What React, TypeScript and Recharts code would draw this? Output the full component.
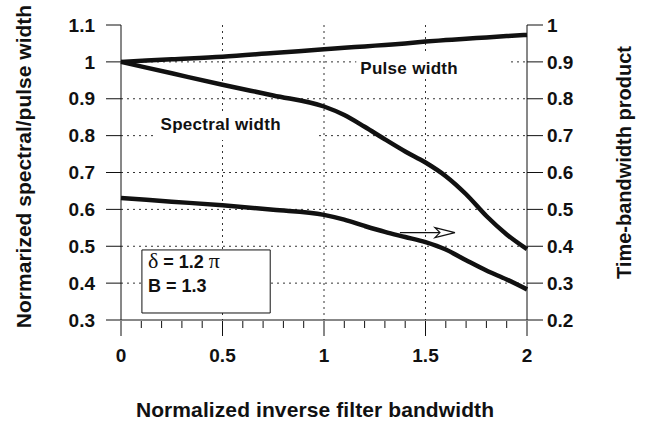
import { ComposedChart, Line, XAxis, YAxis, CartesianGrid, ReferenceArea, ReferenceDot } from "recharts"

// normalized inverse filter bandwidth
const bandwidth = [0, 0.25, 0.5, 0.75, 1.0, 1.1, 1.2, 1.3, 1.4, 1.5, 1.6, 1.7, 1.8, 1.9, 2.0]
// left axis
const pulseWidth = [1.0, 1.007, 1.014, 1.024, 1.034, 1.038, 1.042, 1.046, 1.05, 1.055, 1.059, 1.063, 1.066, 1.07, 1.073]
const spectralWidth = [1.0, 0.969, 0.938, 0.909, 0.879, 0.856, 0.824, 0.79, 0.757, 0.727, 0.69, 0.641, 0.582, 0.532, 0.492]
// right axis
const timeBandwidth = [0.531, 0.521, 0.511, 0.499, 0.485, 0.472, 0.455, 0.439, 0.425, 0.411, 0.391, 0.362, 0.334, 0.31, 0.283]

const xTicks = [0, 0.1, 0.2, 0.3, 0.4, 0.5, 0.6, 0.7, 0.8, 0.9, 1, 1.1, 1.2, 1.3, 1.4, 1.5, 1.6, 1.7, 1.8, 1.9, 2]
const xGrid = [0.5, 1, 1.5]
const leftTicks = [0.3, 0.4, 0.5, 0.6, 0.7, 0.8, 0.9, 1, 1.1]
const leftGrid = [0.4, 0.5, 0.6, 0.7, 0.8, 0.9, 1]
const rightTicks = [0.2, 0.3, 0.4, 0.5, 0.6, 0.7, 0.8, 0.9, 1]

const data = bandwidth.map((x, i) => ({
  x,
  pulse: pulseWidth[i],
  spectral: spectralWidth[i],
  tbp: timeBandwidth[i],
}))

const FONT = "'Liberation Sans', Arial, Helvetica, sans-serif"
const INK = "#111"

function XTick(props: any) {
  const { x, y, payload } = props
  const v = payload.value
  const major = Math.abs(v * 2 - Math.round(v * 2)) < 1e-6
  return (
    <g>
      <line x1={x} x2={x} y1={y + 1} y2={y + (major ? 16 : 8)} stroke={INK} strokeWidth={1} />
      {major && (
        <text x={x} y={y + 42} textAnchor="middle" fontFamily={FONT} fontSize={19} fontWeight="bold" fill={INK}>
          {String(v)}
        </text>
      )}
    </g>
  )
}

function XTitle(props: any) {
  const vb = props.viewBox || { x: 121, y: 320, width: 406, height: 106 }
  return (
    <text x={vb.x + vb.width / 2 - 9} y={vb.y + 97} textAnchor="middle" fontFamily={FONT} fontSize={21} fontWeight="bold" fill={INK} letterSpacing={0.1}>
      Normalized inverse filter bandwidth
    </text>
  )
}

function LeftTitle(props: any) {
  const vb = props.viewBox || { x: 0, y: 25, width: 121, height: 295 }
  const x = vb.x + 31
  const y = vb.y + vb.height / 2 - 6
  return (
    <text x={x} y={y} transform={`rotate(-90 ${x} ${y})`} textAnchor="middle" fontFamily={FONT} fontSize={21} fontWeight="bold" fill={INK}>
      Normarized spectral/pulse width
    </text>
  )
}

function RightTitle(props: any) {
  const vb = props.viewBox || { x: 527, y: 25, width: 121, height: 295 }
  const x = vb.x + 104
  const y = vb.y + vb.height / 2 - 10
  return (
    <text x={x} y={y} transform={`rotate(-90 ${x} ${y})`} textAnchor="middle" fontFamily={FONT} fontSize={20} fontWeight="bold" fill={INK}>
      Time-bandwidth product
    </text>
  )
}

function CurveName(props: any) {
  const { viewBox, text, dx, dy } = props
  if (!viewBox) return null
  return (
    <text x={viewBox.x + dx} y={viewBox.y + dy} fontFamily={FONT} fontSize={17} fontWeight="bold" fill={INK} letterSpacing={0.3}>
      {text}
    </text>
  )
}

function ParamBox(props: any) {
  const { viewBox } = props
  if (!viewBox) return null
  const x = viewBox.x + 6
  const serif = "'Liberation Serif', 'DejaVu Serif', serif"
  return (
    <g fontFamily={FONT} fontSize={18} fontWeight="bold" fill={INK}>
      <text x={x} y={viewBox.y + 18}>
        <tspan fontFamily={serif} fontWeight="normal" fontSize={22}>δ</tspan>
        <tspan> = 1.2 </tspan>
        <tspan fontFamily={serif} fontWeight="normal" fontSize={22}>π</tspan>
      </text>
      <text x={x} y={viewBox.y + 42}>B = 1.3</text>
    </g>
  )
}

function Arrow(props: any) {
  const { cx, cy } = props
  if (cx == null || cy == null) return null
  return (
    <g>
      <line x1={cx - 55} y1={cy} x2={cx - 15} y2={cy} stroke={INK} strokeWidth={1.2} />
      <path
        d={`M ${cx - 20} ${cy - 5} L ${cx} ${cy} L ${cx - 20} ${cy + 5} L ${cx - 15} ${cy} Z`}
        fill="#fff"
        stroke={INK}
        strokeWidth={1.2}
      />
    </g>
  )
}

export default function App() {
  return (
    <div style={{ position: "absolute", left: 0, top: 0, width: 648, height: 426, background: "#fff" }}>
      <ComposedChart width={648} height={426} data={data} margin={{ top: 25, right: 0, bottom: 0, left: 0 }}>
        <CartesianGrid
          yAxisId="left"
          horizontalValues={leftGrid}
          verticalValues={xGrid}
          stroke="#333"
          strokeDasharray="2 4"
        />
        <XAxis
          dataKey="x"
          type="number"
          domain={[0, 2]}
          ticks={xTicks}
          interval={0}
          height={106}
          tickSize={0}
          tickMargin={0}
          tickLine={false}
          axisLine={{ stroke: INK, strokeWidth: 1 }}
          tick={<XTick />}
          label={<XTitle />}
        />
        <XAxis
          xAxisId="top"
          orientation="top"
          dataKey="x"
          type="number"
          domain={[0, 2]}
          height={0}
          tick={false}
          tickLine={false}
          axisLine={{ stroke: INK, strokeWidth: 1 }}
        />
        <YAxis
          yAxisId="left"
          domain={[0.3, 1.1]}
          ticks={leftTicks}
          interval={0}
          width={121}
          tickSize={15}
          tickMargin={11}
          tickFormatter={(v: number) => String(v)}
          tick={{ fontFamily: FONT, fontSize: 19, fontWeight: "bold", fill: INK }}
          tickLine={{ stroke: INK }}
          axisLine={{ stroke: INK }}
          label={<LeftTitle />}
        />
        <YAxis
          yAxisId="right"
          orientation="right"
          domain={[0.2, 1.0]}
          ticks={rightTicks}
          interval={0}
          width={121}
          tickSize={16}
          tickMargin={4}
          tickFormatter={(v: number) => String(v)}
          tick={{ fontFamily: FONT, fontSize: 19, fontWeight: "bold", fill: INK, textAnchor: "start" }}
          tickLine={{ stroke: INK }}
          axisLine={{ stroke: INK }}
          label={<RightTitle />}
        />

        <ReferenceArea
          yAxisId="left"
          x1={1.159}
          x2={1.918}
          y1={0.962}
          y2={1.02}
          fill="#fff"
          fillOpacity={1}
          stroke="none"
          label={<CurveName text="Pulse width" dx={4} dy={19} />}
        />
        <ReferenceArea
          yAxisId="left"
          x1={0.17}
          x2={0.973}
          y1={0.788}
          y2={0.864}
          fill="#fff"
          fillOpacity={1}
          stroke="none"
          label={<CurveName text="Spectral width" dx={5} dy={18} />}
        />
        <ReferenceArea
          yAxisId="left"
          x1={0.103}
          x2={0.735}
          y1={0.319}
          y2={0.49}
          fill="#fff"
          fillOpacity={1}
          stroke={INK}
          strokeWidth={1}
          label={<ParamBox />}
        />

        <Line yAxisId="left" dataKey="pulse" type="monotone" stroke={INK} strokeWidth={4.5} dot={false} isAnimationActive={false} />
        <Line yAxisId="left" dataKey="spectral" type="monotone" stroke={INK} strokeWidth={4.5} dot={false} isAnimationActive={false} />
        <Line yAxisId="right" dataKey="tbp" type="monotone" stroke={INK} strokeWidth={4.5} dot={false} isAnimationActive={false} />

        <ReferenceDot yAxisId="right" x={1.645} y={0.437} r={0} shape={<Arrow />} />
      </ComposedChart>
    </div>
  )
}
